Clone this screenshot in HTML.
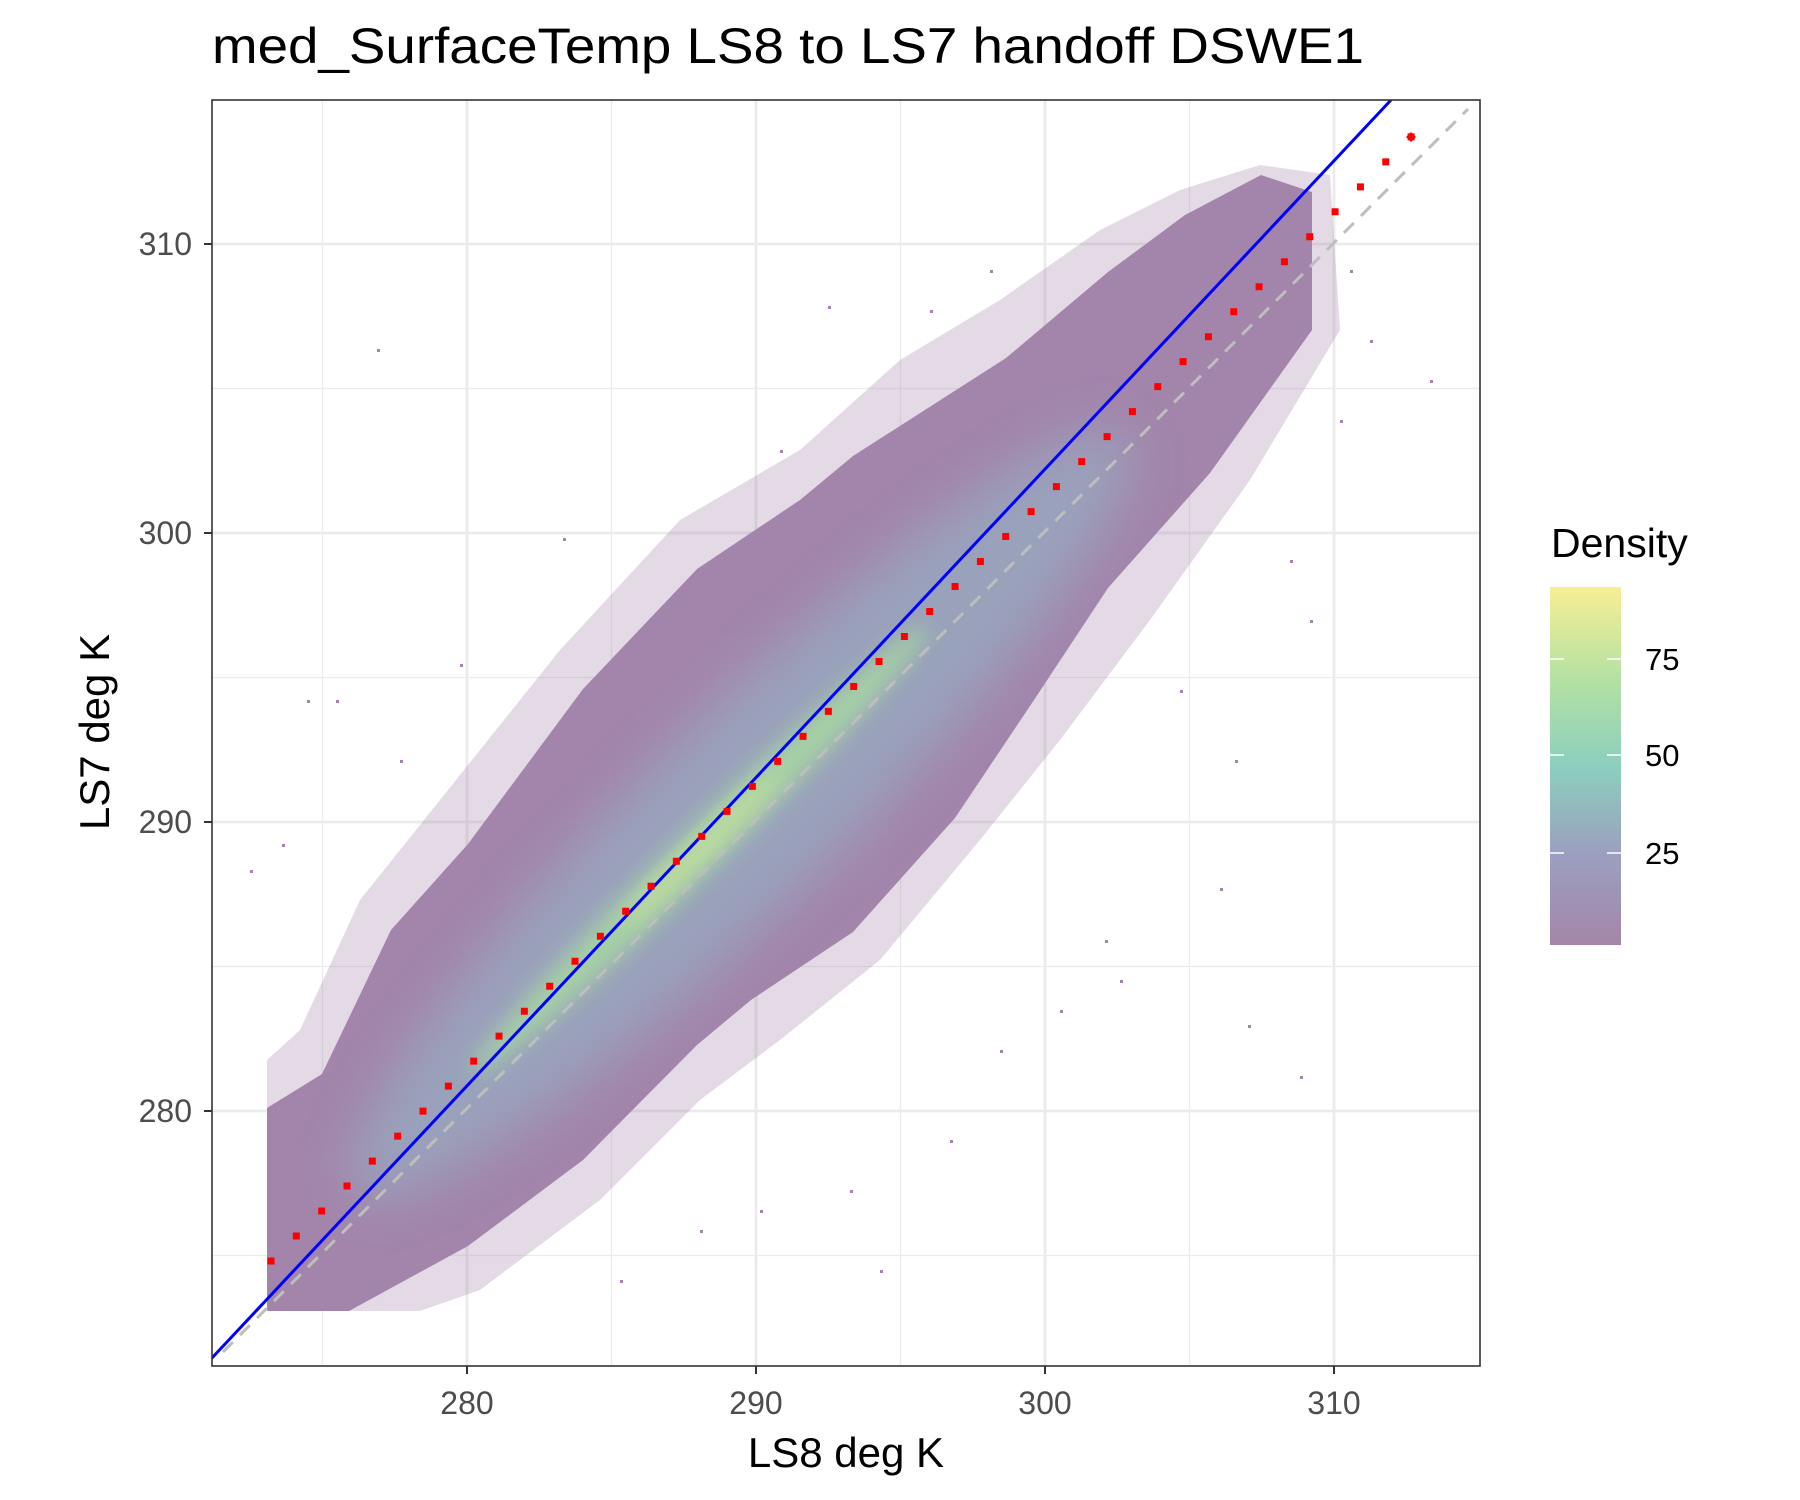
<!DOCTYPE html>
<html><head><meta charset="utf-8"><style>
html,body{margin:0;padding:0;background:#fff}
svg{display:block;font-family:"Liberation Sans",sans-serif}
</style></head><body>
<svg width="1800" height="1500" viewBox="0 0 1800 1500" xmlns="http://www.w3.org/2000/svg">
<defs>
<clipPath id="pc"><rect x="212" y="100" width="1268" height="1266"/></clipPath>
<clipPath id="cloud"><polygon points="267,1311 267,1108 322,1074 391,930 468,844 583,689 697,569 800,500 853,456 1006,358 1108,272 1185,215 1261,175 1312,192 1312,330 1210,473 1108,588 1032,703 955,818 853,932 751,1000 697,1045 583,1160 468,1246 349,1311"/></clipPath>
<filter id="bl" x="-50%" y="-50%" width="200%" height="200%"><feGaussianBlur stdDeviation="25"/></filter>
<filter id="bl2" x="-50%" y="-50%" width="200%" height="200%"><feGaussianBlur stdDeviation="10"/></filter>
<linearGradient id="cb" x1="0" y1="1" x2="0" y2="0">
<stop offset="0" stop-color="#a486a9"/><stop offset="0.25" stop-color="#9b9fbf"/><stop offset="0.5" stop-color="#8ccfbe"/><stop offset="0.75" stop-color="#b6e2a2"/><stop offset="1" stop-color="#f7ef93"/>
</linearGradient>
</defs>
<rect width="1800" height="1500" fill="#fff"/>
<text x="212" y="63" font-size="50" fill="#000" textLength="1152" lengthAdjust="spacingAndGlyphs">med_SurfaceTemp LS8 to LS7 handoff DSWE1</text>
<g stroke="#ebebeb" stroke-width="1.3">
<line x1="322.5" y1="100" x2="322.5" y2="1366"/><line x1="611.5" y1="100" x2="611.5" y2="1366"/><line x1="900.5" y1="100" x2="900.5" y2="1366"/><line x1="1189.5" y1="100" x2="1189.5" y2="1366"/>
<line x1="212" y1="1255.5" x2="1480" y2="1255.5"/><line x1="212" y1="966.5" x2="1480" y2="966.5"/><line x1="212" y1="677.5" x2="1480" y2="677.5"/><line x1="212" y1="388.5" x2="1480" y2="388.5"/>
</g>
<g stroke="#ebebeb" stroke-width="2.8">
<line x1="467" y1="100" x2="467" y2="1366"/><line x1="756" y1="100" x2="756" y2="1366"/><line x1="1045" y1="100" x2="1045" y2="1366"/><line x1="1334" y1="100" x2="1334" y2="1366"/>
<line x1="212" y1="1111" x2="1480" y2="1111"/><line x1="212" y1="822" x2="1480" y2="822"/><line x1="212" y1="533" x2="1480" y2="533"/><line x1="212" y1="244" x2="1480" y2="244"/>
</g>
<g clip-path="url(#pc)">
<polygon points="267,1311 267,1060 300,1030 360,900 440,800 560,650 680,520 800,450 900,360 1000,300 1100,230 1180,190 1260,165 1330,175 1340,330 1250,480 1150,620 1060,740 980,840 880,960 780,1040 700,1100 600,1200 480,1290 420,1311" fill="#a584ab" opacity="0.3"/>
<g clip-path="url(#cloud)">
<rect x="212" y="100" width="1268" height="1266" fill="#a385ab"/>
<ellipse cx="740" cy="815" rx="540" ry="95" fill="#97a9bf" opacity="0.8" transform="rotate(-44.5 740 815)" filter="url(#bl)"/>
<ellipse cx="700" cy="850" rx="320" ry="22" fill="#a9dca0" opacity="0.8" transform="rotate(-44.5 700 850)" filter="url(#bl2)"/>
<ellipse cx="700" cy="850" rx="110" ry="10" fill="#d8e69a" opacity="0.55" transform="rotate(-44.5 700 850)" filter="url(#bl2)"/>
</g>
<g fill="#a584ab">
<rect x="377" y="349" width="3" height="3"/><rect x="828" y="306" width="3" height="3"/><rect x="563" y="538" width="3" height="3"/><rect x="1235" y="760" width="3" height="3"/><rect x="1300" y="1076" width="3" height="3"/><rect x="1248" y="1025" width="3" height="3"/><rect x="950" y="1140" width="3" height="3"/><rect x="307" y="700" width="3" height="3"/><rect x="336" y="700" width="3" height="3"/><rect x="1430" y="380" width="3" height="3"/><rect x="1220" y="888" width="3" height="3"/><rect x="1105" y="940" width="3" height="3"/><rect x="1180" y="690" width="3" height="3"/><rect x="990" y="270" width="3" height="3"/><rect x="1350" y="270" width="3" height="3"/><rect x="460" y="664" width="3" height="3"/><rect x="282" y="844" width="3" height="3"/><rect x="880" y="1270" width="3" height="3"/><rect x="1000" y="1050" width="3" height="3"/><rect x="1060" y="1010" width="3" height="3"/><rect x="1120" y="980" width="3" height="3"/><rect x="850" y="1190" width="3" height="3"/><rect x="700" y="1230" width="3" height="3"/><rect x="760" y="1210" width="3" height="3"/><rect x="620" y="1280" width="3" height="3"/><rect x="930" y="310" width="3" height="3"/><rect x="1370" y="340" width="3" height="3"/><rect x="1340" y="420" width="3" height="3"/><rect x="1290" y="560" width="3" height="3"/><rect x="1310" y="620" width="3" height="3"/><rect x="780" y="450" width="3" height="3"/><rect x="400" y="760" width="3" height="3"/><rect x="250" y="870" width="3" height="3"/>
</g>
<line x1="223" y1="1352" x2="1468" y2="109" stroke="#bebebe" stroke-width="3" stroke-dasharray="14 10"/>
<line x1="211" y1="1359" x2="1391" y2="100" stroke="#0000ff" stroke-width="3"/>
<line x1="271" y1="1261" x2="1414" y2="134" stroke="#ff0000" stroke-width="7" stroke-linecap="square" stroke-dasharray="0 35.58"/>
<rect x="1407.5" y="133.5" width="7" height="7" fill="#ff0000" transform="rotate(45 1411 137)"/>
</g>
<rect x="212" y="100" width="1268" height="1266" fill="none" stroke="#333" stroke-width="1.6"/>
<g stroke="#333" stroke-width="2">
<line x1="467" y1="1366" x2="467" y2="1374"/><line x1="756" y1="1366" x2="756" y2="1374"/><line x1="1045" y1="1366" x2="1045" y2="1374"/><line x1="1334" y1="1366" x2="1334" y2="1374"/>
<line x1="204" y1="1111" x2="212" y2="1111"/><line x1="204" y1="822" x2="212" y2="822"/><line x1="204" y1="533" x2="212" y2="533"/><line x1="204" y1="244" x2="212" y2="244"/>
</g>
<g font-size="32" fill="#4d4d4d" text-anchor="middle">
<text x="467" y="1414">280</text><text x="756" y="1414">290</text><text x="1045" y="1414">300</text><text x="1334" y="1414">310</text>
</g>
<g font-size="32" fill="#4d4d4d" text-anchor="end">
<text x="192" y="1122">280</text><text x="192" y="833">290</text><text x="192" y="544">300</text><text x="192" y="255">310</text>
</g>
<text x="846" y="1467" font-size="42" text-anchor="middle" fill="#000">LS8 deg K</text>
<text transform="translate(109 732) rotate(-90)" font-size="42" text-anchor="middle" fill="#000">LS7 deg K</text>
<text x="1551" y="557" font-size="41" fill="#000">Density</text>
<rect x="1550" y="587" width="71" height="358" fill="url(#cb)"/>
<g stroke="#fff" stroke-width="1.5">
<line x1="1550" y1="659" x2="1564" y2="659"/><line x1="1607" y1="659" x2="1621" y2="659"/>
<line x1="1550" y1="755" x2="1564" y2="755"/><line x1="1607" y1="755" x2="1621" y2="755"/>
<line x1="1550" y1="853" x2="1564" y2="853"/><line x1="1607" y1="853" x2="1621" y2="853"/>
</g>
<g font-size="31" fill="#000">
<text x="1645" y="670">75</text><text x="1645" y="766">50</text><text x="1645" y="864">25</text>
</g>
</svg>
</body></html>
